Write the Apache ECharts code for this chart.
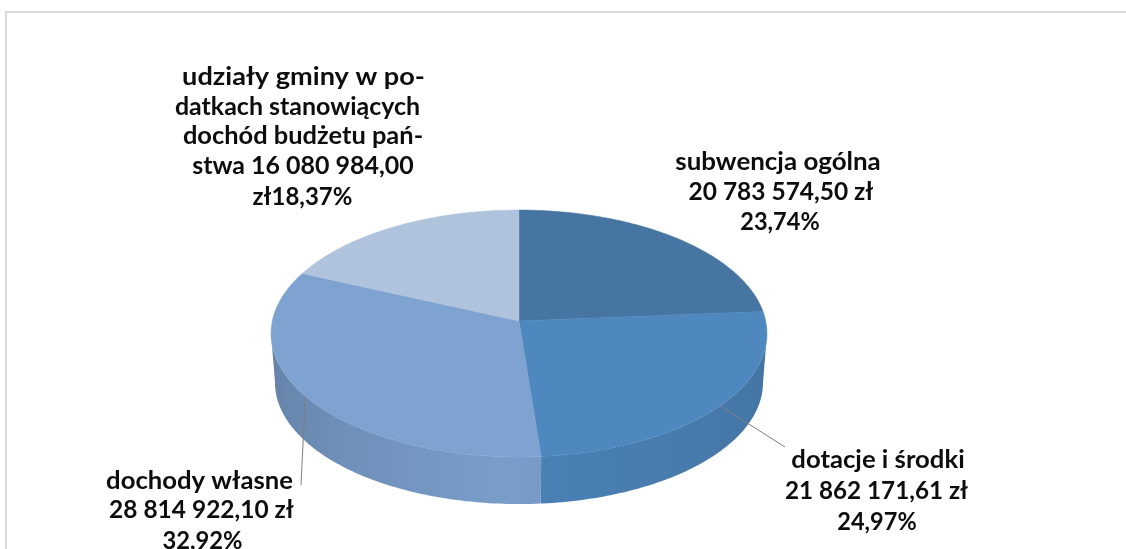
<!DOCTYPE html>
<html>
<head>
<meta charset="utf-8">
<title>Dochody gminy</title>
<script src="https://cdn.jsdelivr.net/npm/echarts@6/dist/echarts.min.js"></script>
<style>
	html, body { margin: 0; padding: 0; background: #fff; }
	#chart { width: 1126px; height: 549px; }
</style>
</head>
<body>
<div id="chart"></div>
<script>
// dane, kolejnosc jak na kole: od godziny 12 w prawo
var categories = ['subwencja ogólna', 'dotacje i środki', 'dochody własne', 'udziały gminy'];
var amounts = [20783574.50, 21862171.61, 28814922.10, 16080984.00];
var labelLines = [
	['subwencja ogólna', '20 783 574,50 zł', '23,74%'],
	['dotacje i środki', '21 862 171,61 zł', '24,97%'],
	['dochody własne', '28 814 922,10 zł', '32,92%'],
	['udziały gminy w po-', 'datkach stanowiących', 'dochód budżetu pań-', 'stwa 16 080 984,00', 'zł18,37%']
];

var colors = ['#4675a1', '#4f88bf', '#7ea3d1', '#afc3dd'];
// polozenie kazdej linii etykiety: x, y, rozciagniecie w poziomie (Lato jest wezsze od oryginalu)
var lineLayout = [
	[[778, 162, 1.08], [781, 192, 1.02], [780, 222, 0.98]],
	[[878, 460, 1.07], [876.5, 491, 1.01], [877, 522, 0.98]],
	[[199.5, 481, 1.07], [201.5, 510, 1.02], [202.5, 541, 0.99]],
	[[303.5, 77, 1.13], [297.5, 107, 1.04], [303, 136, 1.06], [303, 166, 1.04], [302.5, 197, 1]]
];
var leaderEnd = [null, [785, 447], [301, 485], null];

// perspektywa kola: cx/cy - srodek, k - skrot w glab
var cx = 519, cy = 321, rx = 246.7, ry = 122.2, k = 0.1012;
// dolna krawedz boku zbiega sie do punktu zbiegu
var bottomScale = 0.984, vanishY = 3400;
// kat, przy ktorym brzeg kola jest najdalej w bok
var edgeAngle = Math.acos(-k) * 180 / Math.PI;

var total = 0;
for (var n = 0; n < amounts.length; n++) total += amounts[n];

function startAngle(idx){
	var sum = 0;
	for (var i = 0; i < idx; i++) sum += amounts[i];
	return sum / total * 360;
}
function project(deg){
	var a = deg * Math.PI / 180;
	var X = Math.sin(a), Y = Math.cos(a);
	var d = 1 + k * Y;
	return [cx + rx * X / d, cy - ry * Y / d];
}
function lower(p){
	return [cx + (p[0] - cx) * bottomScale, p[1] + (vanishY - p[1]) * (1 - bottomScale)];
}
function shade(hex, f){
	var c = echarts.color.parse(hex);
	return 'rgb(' + Math.round(c[0] * f) + ',' + Math.round(c[1] * f) + ',' + Math.round(c[2] * f) + ')';
}
// bok ciemnieje od frontu do krawedzi
function sideFactor(deg){
	if (deg < 180) return 0.95 - 0.11 * Math.min(1, (180 - deg) / 90);
	return 0.97 - 0.2 * Math.min(1, (deg - 180) / 90);
}

function renderSide(params, api){
	var idx = params.dataIndex;
	var first = startAngle(idx);
	// widoczny jest tylko przod walca
	var from = Math.max(first, edgeAngle);
	var to = Math.min(first + api.value(0) / total * 360, 360 - edgeAngle);
	if (to <= from) return null;
	var top = [], bottom = [], a;
	for (a = from; a < to; a += 1) top.push(project(a));
	top.push(project(to));
	for (var i = top.length - 1; i >= 0; i--) bottom.push(lower(top[i]));
	// gradient w poziomie, przystanki liczone z kata
	var x0 = project(from)[0], x1 = project(to)[0];
	var stops = [];
	for (var s = 0; s <= 12; s++){
		a = from + (to - from) * s / 12;
		stops.push({ offset: (project(a)[0] - x0) / (x1 - x0), color: shade(colors[idx], sideFactor(a)) });
	}
	return {
		type: 'polygon',
		shape: { points: top.concat(bottom) },
		style: { fill: new echarts.graphic.LinearGradient(x0, 0, x1, 0, stops, true) }
	};
}

function renderTop(params, api){
	var idx = params.dataIndex;
	var from = startAngle(idx);
	var to = from + api.value(0) / total * 360;
	var pts = [[cx, cy]];
	for (var a = from; a < to; a += 1) pts.push(project(a));
	pts.push(project(to));
	return {
		type: 'polygon',
		shape: { points: pts },
		style: { fill: colors[idx], stroke: colors[idx], lineWidth: 0.5 }
	};
}

function renderLabel(params, api){
	var idx = params.dataIndex;
	var mid = startAngle(idx) + api.value(0) / total * 180;
	var children = [];
	if (leaderEnd[idx]){
		var s = project(mid);
		children.push({
			type: 'line',
			shape: { x1: s[0], y1: s[1], x2: leaderEnd[idx][0], y2: leaderEnd[idx][1] },
			style: { stroke: '#7f7f7f', lineWidth: 1 }
		});
	}
	for (var i = 0; i < labelLines[idx].length; i++){
		var l = lineLayout[idx][i];
		children.push({
			type: 'text',
			x: l[0],
			y: l[1],
			scaleX: l[2],
			style: {
				text: labelLines[idx][i],
				font: 'bold 24px Lato',
				fill: '#0d0d0d',
				align: 'center',
				verticalAlign: 'middle'
			}
		});
	}
	return { type: 'group', children: children };
}

var myChart = echarts.init(document.getElementById('chart'));
var data = [];
for (var i = 0; i < amounts.length; i++) data.push({ name: categories[i], value: amounts[i] });

myChart.setOption({
	animation: false,
	backgroundColor: '#fff',
	graphic: [{
		type: 'rect',
		silent: true,
		shape: { x: 6, y: 12, width: 1300, height: 700 },
		style: { fill: 'transparent', stroke: '#d9d9d9', lineWidth: 2 }
	}],
	series: [
		{ type: 'custom', coordinateSystem: 'none', z: 1, data: data, renderItem: renderSide },
		{ type: 'custom', coordinateSystem: 'none', z: 2, data: data, renderItem: renderTop },
		{ type: 'custom', coordinateSystem: 'none', z: 3, data: data, renderItem: renderLabel }
	]
});
</script>
</body>
</html>
